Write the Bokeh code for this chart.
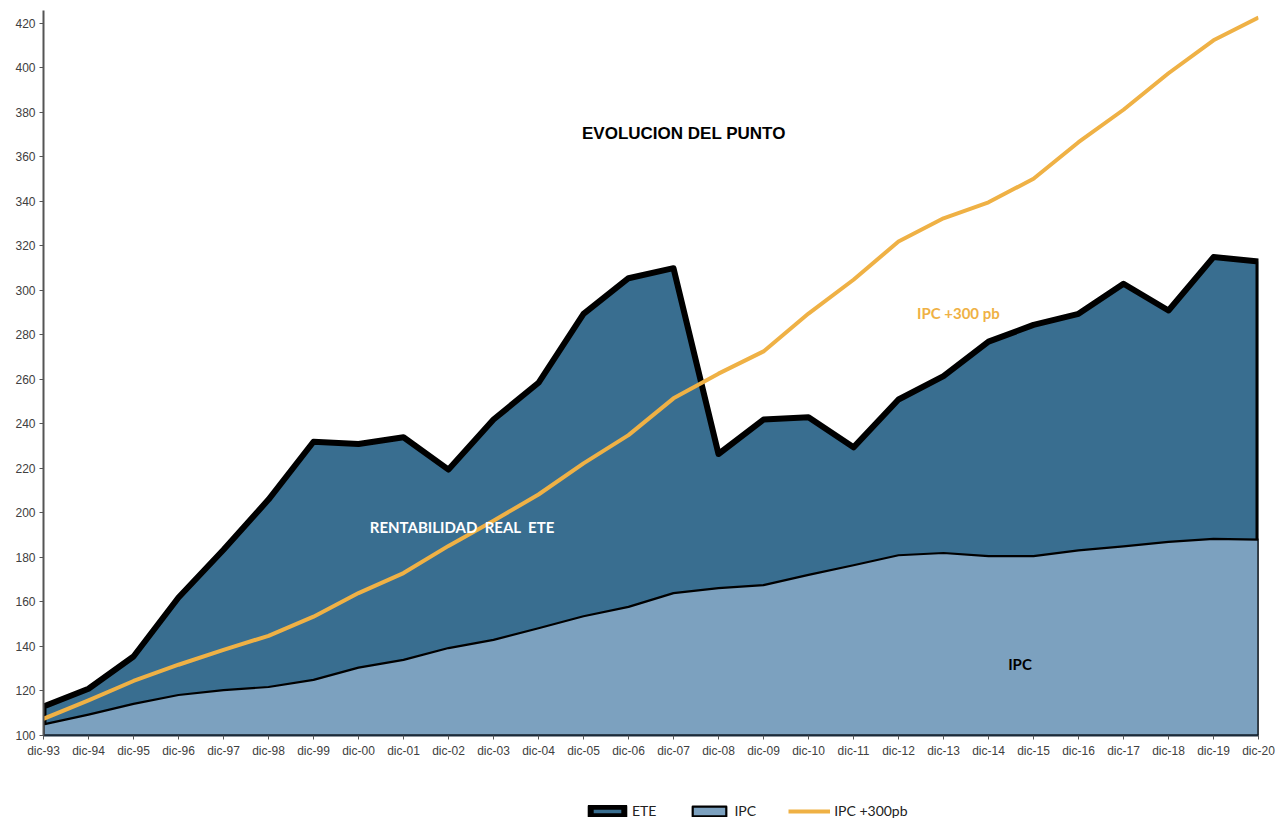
from bokeh.plotting import figure
from bokeh.layouts import column
from bokeh.models import (Range1d, FixedTicker, Label, Legend, LegendItem)
from bokeh.embed import file_html
from bokeh.resources import INLINE

categories = ["dic-93", "dic-94", "dic-95", "dic-96", "dic-97", "dic-98", "dic-99",
              "dic-00", "dic-01", "dic-02", "dic-03", "dic-04", "dic-05", "dic-06",
              "dic-07", "dic-08", "dic-09", "dic-10", "dic-11", "dic-12", "dic-13",
              "dic-14", "dic-15", "dic-16", "dic-17", "dic-18", "dic-19", "dic-20"]

ete = [113, 121, 135.5, 162, 183.5, 206, 232, 231, 234, 219.5, 242, 258.5, 289.5, 305.5,
       310, 226.5, 242, 243, 229.5, 251, 261.5, 277, 284.5, 289.5, 303, 291, 315, 313]

ipc = [105, 109.4, 114.2, 118.2, 120.4, 121.8, 125, 130.5, 134, 139.3, 143, 148.2, 153.6, 157.8,
       164, 166.2, 167.6, 172.2, 176.5, 181, 182, 180.6, 180.6, 183.2, 185, 187, 188.4, 188]

ipc300 = [107.5, 115.8, 124.5, 131.8, 138.5, 144.8, 153.4, 164, 173, 185.2, 196.5, 208.3, 222.3, 235,
          251.5, 262.6, 272.6, 289.6, 304.8, 322, 332.4, 339.6, 350.2, 366.6, 381.2, 397.6, 412.4, 422.6]

series_names = ["ETE", "IPC", "IPC +300pb"]
y_ticks = list(range(100, 421, 20))

DARK = "#396E90"
LIGHT = "#7CA1BF"
ORANGE = "#EFB145"

n = len(categories)
xs = list(range(n))

p = figure(width=1277, height=760, output_backend="svg", toolbar_location=None,
           x_range=Range1d(0, n - 1), y_range=Range1d(100, 425.8),
           min_border_left=43, min_border_right=19, min_border_top=10, min_border_bottom=24)
p.outline_line_color = None
p.xgrid.visible = False
p.ygrid.visible = False
p.background_fill_color = "white"
p.border_fill_color = "white"

ete_style = dict(fill_color=DARK, line_color="black", line_width=6, line_join="round")
ipc_style = dict(fill_color=LIGHT, line_color="black", line_width=2.2, line_join="round")
ipc300_style = dict(line_color=ORANGE, line_width=4, line_join="round")

# ETE area (from base to ETE), outlined in thick black
p.patch(xs + [n - 1, 0], ete + [100, 100], **ete_style)
# IPC area
p.patch(xs + [n - 1, 0], ipc + [100, 100], **ipc_style)
# IPC + 300pb line
p.line(xs, ipc300, **ipc300_style)

# Axes
p.xaxis.ticker = FixedTicker(ticks=xs)
p.xaxis.major_label_overrides = {i: c for i, c in enumerate(categories)}
p.yaxis.ticker = FixedTicker(ticks=y_ticks)
for ax in (p.xaxis, p.yaxis):
    ax.axis_line_color = "#555555"
    ax.axis_line_width = 2
    ax.major_tick_line_color = "#555555"
    ax.major_tick_out = 4
    ax.major_tick_in = 0
    ax.minor_tick_line_color = None
    ax.major_label_text_font = "Liberation Sans"
    ax.major_label_text_font_size = "12px"
    ax.major_label_text_color = "#404040"
p.xaxis.axis_line_color = "#1a2a3a"
p.xaxis.major_label_standoff = 4
p.yaxis.major_label_standoff = 4

# Text annotations
p.add_layout(Label(x=14.23, y=370.5, text="EVOLUCION DEL PUNTO", text_align="center",
                   text_baseline="middle", text_font="Liberation Sans",
                   text_font_style="bold", text_font_size="17px", text_color="black"))
p.add_layout(Label(x=9.3, y=193.8, text="RENTABILIDAD\u00a0 REAL\u00a0 ETE", text_align="center",
                   text_baseline="middle", text_font="Lato",
                   text_font_style="bold", text_font_size="15px", text_color="white"))
p.add_layout(Label(x=20.33, y=289.9, text="IPC +300 pb", text_align="center",
                   text_baseline="middle", text_font="Lato",
                   text_font_style="bold", text_font_size="15px", text_color=ORANGE))
p.add_layout(Label(x=21.7, y=132.3, text="IPC", text_align="center",
                   text_baseline="middle", text_font="Lato",
                   text_font_style="bold", text_font_size="15px", text_color="black"))

# Legend strip below the chart (proxy renderers kept outside the visible range)
lg = figure(width=1277, height=58, output_backend="svg", toolbar_location=None,
            x_range=Range1d(0, 1), y_range=Range1d(0, 1),
            x_axis_type=None, y_axis_type=None,
            min_border_left=0, min_border_right=0, min_border_top=0, min_border_bottom=0)
lg.outline_line_color = None
lg.xgrid.visible = False
lg.ygrid.visible = False
r_ete = lg.patch([10, 11, 11], [10, 10, 11], **ete_style)
r_ipc = lg.patch([10, 11, 11], [10, 10, 11], **ipc_style)
r_300 = lg.line([10, 11], [10, 11], **ipc300_style)

legend = Legend(items=[LegendItem(label=series_names[0], renderers=[r_ete]),
                       LegendItem(label=series_names[1], renderers=[r_ipc]),
                       LegendItem(label=series_names[2], renderers=[r_300])],
                orientation="horizontal", location=(543, -1),
                label_text_font="Lato", label_text_font_size="14px",
                label_text_color="#222222", glyph_width=42, glyph_height=12,
                spacing=32, label_standoff=4, border_line_color=None,
                background_fill_alpha=0, padding=0, margin=0)
lg.add_layout(legend, "center")

layout = column(p, lg, spacing=0)
open("out.html", "w").write(file_html(layout, INLINE))
